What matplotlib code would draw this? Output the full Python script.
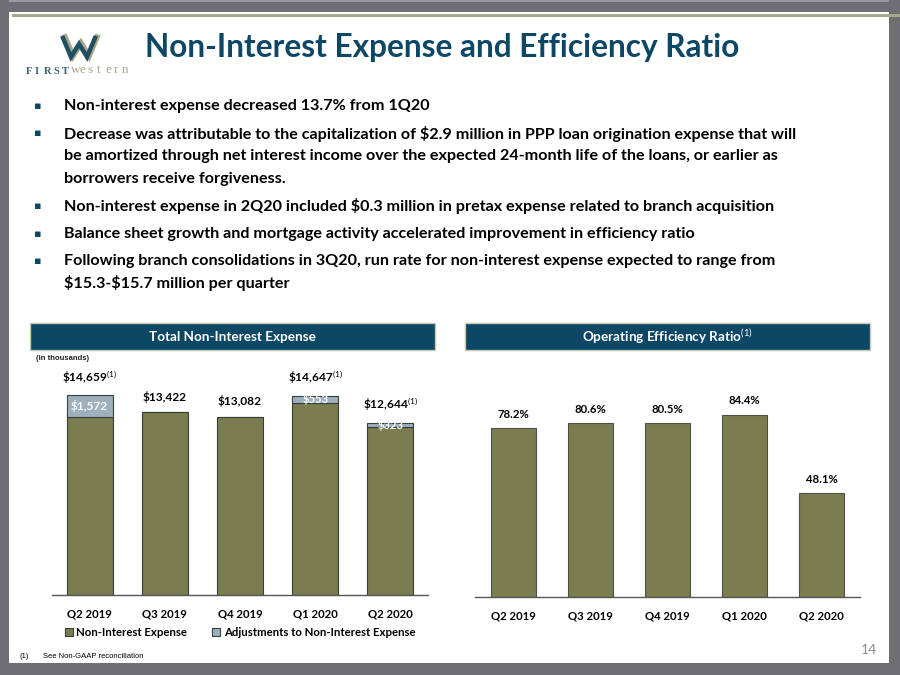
import matplotlib
matplotlib.use("Agg")

import matplotlib.pyplot as plt
from matplotlib.lines import Line2D
from matplotlib.patches import Patch, Rectangle

# ---- data -------------------------------------------------------------
quarters = ["Q2 2019", "Q3 2019", "Q4 2019", "Q1 2020", "Q2 2020"]
nie = [13087, 13422, 13082, 14094, 12321]
adjustments = [1572, 0, 0, 553, 323]
nie_totals = [14659, 13422, 13082, 14647, 12644]
total_has_note = [True, False, False, True, True]
efficiency = [78.2, 80.6, 80.5, 84.4, 48.1]

title = "Non-Interest Expense and Efficiency Ratio"
bullets = [
    ["Non-interest expense decreased 13.7% from 1Q20"],
    ["Decrease was attributable to the capitalization of $2.9 million in PPP loan origination expense that will",
     "be amortized through net interest income over the expected 24-month life of the loans, or earlier as",
     "borrowers receive forgiveness."],
    ["Non-interest expense in 2Q20 included $0.3 million in pretax expense related to branch acquisition"],
    ["Balance sheet growth and mortgage activity accelerated improvement in efficiency ratio"],
    ["Following branch consolidations in 3Q20, run rate for non-interest expense expected to range from",
     "$15.3-$15.7 million per quarter"],
]

# ---- style -------------------------------------------------------------
NAVY = "#0c4766"
OLIVE = "#7b7c4f"
STEEL = "#9eb0bd"
EDGE = "#35403b"
FRAME = "#6f6e73"
TAN = "#a9a58c"
FONT = "Lato"

plt.rcParams["font.family"] = [FONT, "DejaVu Sans"]
plt.rcParams["mathtext.fontset"] = "custom"
plt.rcParams["mathtext.rm"] = FONT
plt.rcParams["mathtext.bf"] = FONT + ":bold"
plt.rcParams["mathtext.it"] = FONT + ":italic"

W, H = 900, 675
fig = plt.figure(figsize=(9, 6.75), dpi=100)


def fx(x):
    return x / W


def fy(y):
    return 1 - y / H


def rect(x0, y0, x1, y1, **kw):
    fig.patches.append(Rectangle((fx(x0), fy(y1)), fx(x1) - fx(x0), fy(y0) - fy(y1),
                                 transform=fig.transFigure, **kw))


# slide frame
rect(0, 0, 900, 12, color=FRAME, lw=0)
rect(0, 0, 900, 2, color="#9a999d", lw=0)
rect(0, 663, 900, 675, color=FRAME, lw=0)
rect(0, 0, 9, 675, color=FRAME, lw=0)
rect(889, 0, 900, 675, color=FRAME, lw=0)
rect(12, 14, 900, 17, color="#a4a88a", lw=0)

# logo: W mark drawn as two offset strokes, letter-spaced word mark
w_x = [63, 71, 79, 87, 95]
w_y = [38, 57, 44, 57, 38]
fig.add_artist(Line2D([fx(x + 2) for x in w_x], [fy(y - 1) for y in w_y],
                      transform=fig.transFigure, color=TAN, lw=4,
                      solid_joinstyle="miter"))
fig.add_artist(Line2D([fx(x) for x in w_x], [fy(y) for y in w_y],
                      transform=fig.transFigure, color="#1f4f63", lw=3.2,
                      solid_joinstyle="miter"))
for i, ch in enumerate("FIRST"):
    fig.text(fx(26 + 9 * i), fy(71), ch, fontsize=7.5, fontweight="bold",
             color="#3c6476", ha="left", va="center", family="Liberation Serif")
for i, ch in enumerate("western"):
    fig.text(fx(71 + 8.5 * i), fy(70), ch, fontsize=9.5, color=TAN,
             ha="left", va="center", family="Liberation Serif")

# title
fig.text(fx(145), fy(48), title, fontsize=22.8, fontweight="bold", color=NAVY,
         ha="left", va="center")

# bullets
line_y = 106
for para in bullets:
    for i, line in enumerate(para):
        if i == 0:
            fig.text(fx(38), fy(line_y), "\u25aa", fontsize=8, color=NAVY,
                     ha="center", va="center", family="DejaVu Sans")
        fig.text(fx(64), fy(line_y), line.replace("$", r"\$"), fontsize=11.6,
                 fontweight="bold", color="black", ha="left", va="center")
        line_y += 22.5 if i < len(para) - 1 else 0
    line_y += 27.5

# section headers
for x0, x1, label in [(30, 435, "Total Non-Interest Expense"),
                      (465, 870, r"Operating Efficiency Ratio$^{(1)}$")]:
    rect(x0, 323, x1, 350, facecolor=NAVY, edgecolor="#c4c9ae", lw=1)
    fig.text(fx((x0 + x1) / 2), fy(337), label, fontsize=9.7, fontweight="bold",
             color="white", ha="center", va="center")

fig.text(fx(36), fy(358), "(in thousands)", fontsize=5.5, fontweight="bold",
         color="#222222", ha="left", va="center", family="Liberation Sans")

# ---- left chart: non-interest expense ----------------------------------
ax1 = fig.add_axes([fx(52), fy(595), fx(428) - fx(52), fy(375) - fy(595)])
xs = range(len(quarters))
ax1.bar(xs, nie, width=0.61, color=OLIVE, edgecolor=EDGE, linewidth=0.8)
ax1.bar(xs, adjustments, bottom=nie, width=0.61, color=STEEL, edgecolor=EDGE,
        linewidth=0.8)
ax1.set_xlim(-0.5, len(quarters) - 0.5)
ax1.set_ylim(0, 16165)

for x, base, adj, tot, note in zip(xs, nie, adjustments, nie_totals, total_has_note):
    label = r"\$" + f"{tot:,}"
    if note:
        label += r"$^{(1)}$"
    ax1.annotate(label, (x, tot), xytext=(0, 7), textcoords="offset points",
                 ha="center", va="bottom", fontsize=8.6, fontweight="bold")
    if adj:
        ax1.text(x, base + adj / 2, r"\$" + f"{adj:,}", ha="center", va="center",
                 fontsize=8.6 if adj > 1000 else 8, fontweight="bold",
                 color="white")

# ---- right chart: efficiency ratio -------------------------------------
ax2 = fig.add_axes([fx(475), fy(597), fx(860) - fx(475), fy(380) - fy(597)])
ax2.bar(xs, efficiency, width=0.58, color=OLIVE, edgecolor="#4d5248",
        linewidth=0.8)
ax2.set_xlim(-0.5, len(quarters) - 0.5)
ax2.set_ylim(0, 100.5)
for x, v in zip(xs, efficiency):
    ax2.annotate(f"{v:.1f}%", (x, v), xytext=(0, 6), textcoords="offset points",
                 ha="center", va="bottom", fontsize=8.2, fontweight="bold")

for ax in (ax1, ax2):
    for side in ("top", "right", "left"):
        ax.spines[side].set_visible(False)
    ax.spines["bottom"].set_color("#555555")
    ax.spines["bottom"].set_linewidth(1.0)
    ax.set_yticks([])
    ax.set_xticks(list(xs))
    ax.set_xticklabels(quarters, fontsize=8.2, fontweight="bold")
    ax.tick_params(axis="x", length=0, pad=10)
    ax.patch.set_alpha(0)

# legend
handles = [Patch(facecolor=OLIVE, edgecolor=EDGE, lw=0.8, label="Non-Interest Expense"),
           Patch(facecolor=STEEL, edgecolor=EDGE, lw=0.8,
                 label="Adjustments to Non-Interest Expense")]
fig.legend(handles=handles, loc="center", bbox_to_anchor=(fx(240), fy(632)),
           ncol=2, frameon=False, handlelength=0.7, handleheight=0.7,
           handletextpad=0.3, columnspacing=2.2,
           prop={"weight": "bold", "size": 8.2})

# footnote and page number
fig.text(fx(20), fy(656), "(1)", fontsize=5.5, ha="left", va="center",
         family="Liberation Sans")
fig.text(fx(43), fy(656), "See Non-GAAP reconciliation", fontsize=5.5, ha="left",
         va="center", family="Liberation Sans")
fig.text(fx(877), fy(650), "14", fontsize=10, color="#8a8a8a", ha="right",
         va="center")

fig.savefig("out.png", dpi=100)
